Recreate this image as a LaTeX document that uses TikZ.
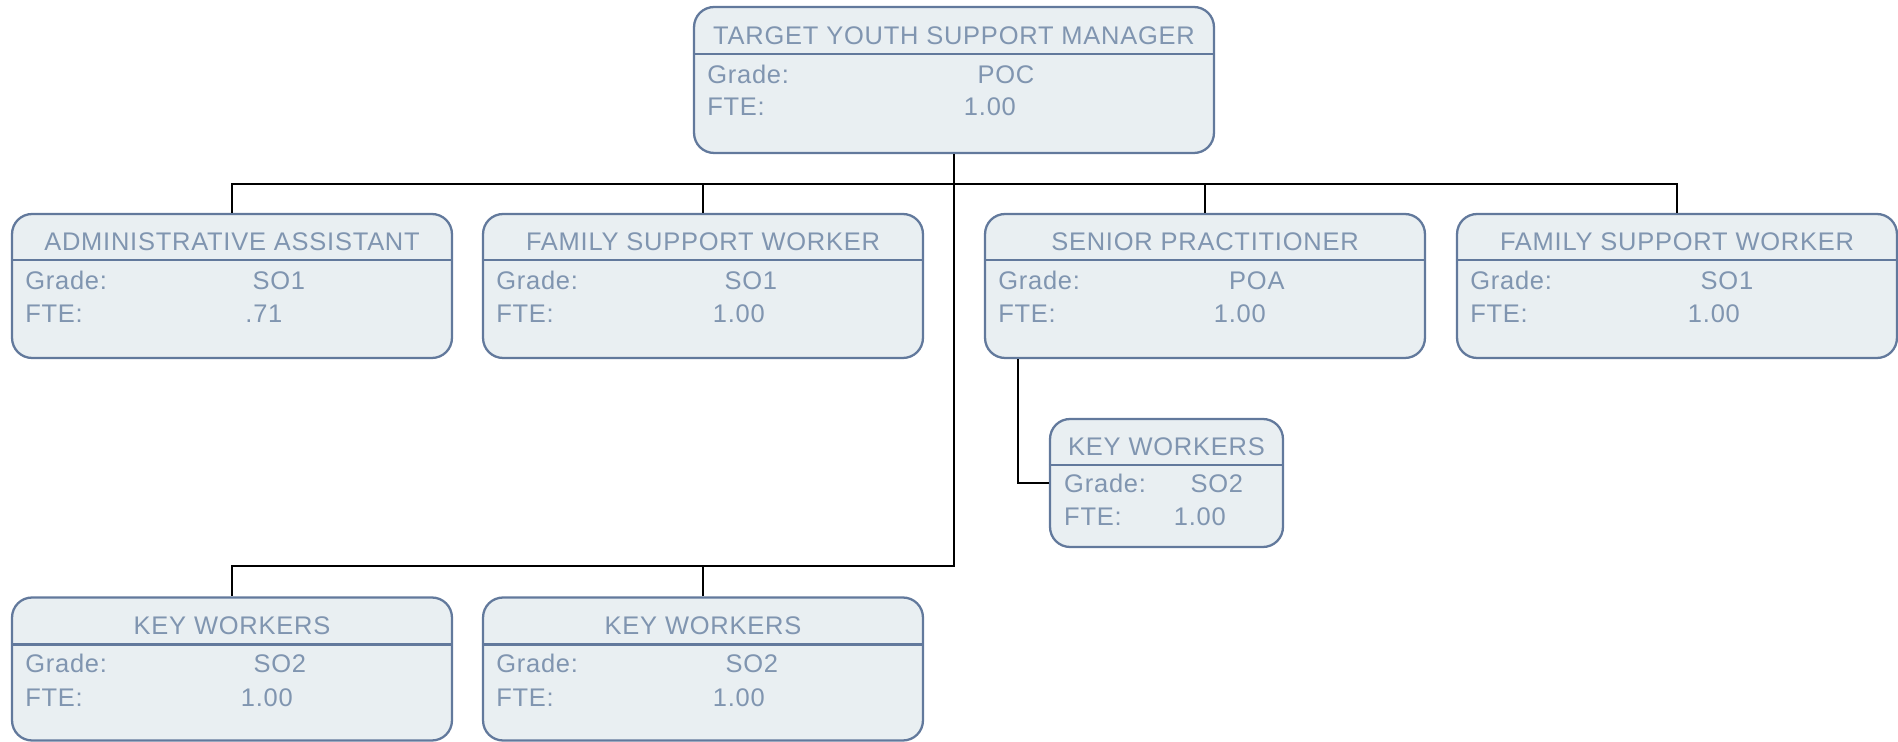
\documentclass[tikz,border=0pt]{standalone}
\usepackage{fontspec}
\newfontfamily\chartfont[LetterSpace=3]{Liberation Sans}
\usetikzlibrary{calc}
\definecolor{boxline}{RGB}{98,121,156}
\definecolor{boxfill}{RGB}{233,239,242}
\definecolor{boxtext}{RGB}{128,149,176}

\begin{document}
\begin{tikzpicture}[x=0.02cm,y=-0.02cm,
  orgbox/.style={draw=boxline,fill=boxfill,line width=1.3pt,rounded corners=0.4cm,
    minimum width=8.8cm,minimum height=2.88cm,inner sep=0pt},
  boxtitle/.style={text=boxtext,font=\chartfont\fontsize{14.5}{17}\selectfont,inner sep=0pt},
  rowlabel/.style={boxtitle,anchor=west},
  rowvalue/.style={boxtitle},
  divider/.style={draw=boxline,line width=1.3pt},
  link/.style={draw=black,line width=1.4pt}]
  \useasboundingbox (0,0) rectangle (1898,742);

  % manager
  \node[orgbox,minimum width=10.4cm,minimum height=2.92cm] (tysm) at (954,80) {};
  \node[boxtitle] (tysm-t) at ($(tysm.north)+(0,30)$) {TARGET YOUTH SUPPORT MANAGER};
  \draw[divider] ($(tysm.north west)+(0,48)$) -- ($(tysm.north east)+(0,48)$);
  \node[rowlabel] (tysm-gl) at ($(tysm.north west)+(14,69)$) {Grade:};
  \node[rowvalue] (tysm-gv) at ($(tysm.north west)+(313,69)$) {POC};
  \node[rowlabel] (tysm-fl) at ($(tysm.north west)+(14,101)$) {FTE:};
  \node[rowvalue] (tysm-fv) at ($(tysm.north west)+(297,101)$) {1.00};

  % second row
  \node[orgbox] (admin) at (232,286) {};
  \node[boxtitle] (admin-t) at ($(admin.north)+(0,29)$) {ADMINISTRATIVE ASSISTANT};
  \draw[divider] ($(admin.north west)+(0,47)$) -- ($(admin.north east)+(0,47)$);
  \node[rowlabel] (admin-gl) at ($(admin.north west)+(14,68)$) {Grade:};
  \node[rowvalue] (admin-gv) at ($(admin.north west)+(268,68)$) {SO1};
  \node[rowlabel] (admin-fl) at ($(admin.north west)+(14,101)$) {FTE:};
  \node[rowvalue] (admin-fv) at ($(admin.north west)+(253,101)$) {.71};

  \node[orgbox] (fswA) at (703,286) {};
  \node[boxtitle] (fswA-t) at ($(fswA.north)+(0,29)$) {FAMILY SUPPORT WORKER};
  \draw[divider] ($(fswA.north west)+(0,47)$) -- ($(fswA.north east)+(0,47)$);
  \node[rowlabel] (fswA-gl) at ($(fswA.north west)+(14,68)$) {Grade:};
  \node[rowvalue] (fswA-gv) at ($(fswA.north west)+(269,68)$) {SO1};
  \node[rowlabel] (fswA-fl) at ($(fswA.north west)+(14,101)$) {FTE:};
  \node[rowvalue] (fswA-fv) at ($(fswA.north west)+(257,101)$) {1.00};

  \node[orgbox] (sp) at (1205,286) {};
  \node[boxtitle] (sp-t) at ($(sp.north)+(0,29)$) {SENIOR PRACTITIONER};
  \draw[divider] ($(sp.north west)+(0,47)$) -- ($(sp.north east)+(0,47)$);
  \node[rowlabel] (sp-gl) at ($(sp.north west)+(14,68)$) {Grade:};
  \node[rowvalue] (sp-gv) at ($(sp.north west)+(273,68)$) {POA};
  \node[rowlabel] (sp-fl) at ($(sp.north west)+(14,101)$) {FTE:};
  \node[rowvalue] (sp-fv) at ($(sp.north west)+(256,101)$) {1.00};

  \node[orgbox] (fswB) at (1677,286) {};
  \node[boxtitle] (fswB-t) at ($(fswB.north)+(0,29)$) {FAMILY SUPPORT WORKER};
  \draw[divider] ($(fswB.north west)+(0,47)$) -- ($(fswB.north east)+(0,47)$);
  \node[rowlabel] (fswB-gl) at ($(fswB.north west)+(14,68)$) {Grade:};
  \node[rowvalue] (fswB-gv) at ($(fswB.north west)+(271,68)$) {SO1};
  \node[rowlabel] (fswB-fl) at ($(fswB.north west)+(14,101)$) {FTE:};
  \node[rowvalue] (fswB-fv) at ($(fswB.north west)+(258,101)$) {1.00};

  % key workers under the senior practitioner
  \node[orgbox,minimum width=4.66cm,minimum height=2.56cm] (kwC) at (1166.5,483) {};
  \node[boxtitle] (kwC-t) at ($(kwC.north)+(0,29)$) {KEY WORKERS};
  \draw[divider] ($(kwC.north west)+(0,47)$) -- ($(kwC.north east)+(0,47)$);
  \node[rowlabel] (kwC-gl) at ($(kwC.north west)+(15,66)$) {Grade:};
  \node[rowvalue] (kwC-gv) at ($(kwC.north west)+(168,66)$) {SO2};
  \node[rowlabel] (kwC-fl) at ($(kwC.north west)+(15,99)$) {FTE:};
  \node[rowvalue] (kwC-fv) at ($(kwC.north west)+(151,99)$) {1.00};

  % bottom row
  \node[orgbox,minimum height=2.86cm] (kwA) at (232,669) {};
  \node[boxtitle] (kwA-t) at ($(kwA.north)+(0,29)$) {KEY WORKERS};
  \draw[divider] ($(kwA.north west)+(0,48)$) -- ($(kwA.north east)+(0,48)$);
  \node[rowlabel] (kwA-gl) at ($(kwA.north west)+(14,67)$) {Grade:};
  \node[rowvalue] (kwA-gv) at ($(kwA.north west)+(269,67)$) {SO2};
  \node[rowlabel] (kwA-fl) at ($(kwA.north west)+(14,101)$) {FTE:};
  \node[rowvalue] (kwA-fv) at ($(kwA.north west)+(256,101)$) {1.00};

  \node[orgbox,minimum height=2.86cm] (kwB) at (703,669) {};
  \node[boxtitle] (kwB-t) at ($(kwB.north)+(0,29)$) {KEY WORKERS};
  \draw[divider] ($(kwB.north west)+(0,48)$) -- ($(kwB.north east)+(0,48)$);
  \node[rowlabel] (kwB-gl) at ($(kwB.north west)+(14,67)$) {Grade:};
  \node[rowvalue] (kwB-gv) at ($(kwB.north west)+(270,67)$) {SO2};
  \node[rowlabel] (kwB-fl) at ($(kwB.north west)+(14,101)$) {FTE:};
  \node[rowvalue] (kwB-fv) at ($(kwB.north west)+(257,101)$) {1.00};

  % connectors
  \draw[link] (tysm.south) -- ++(0,30) coordinate (bus);
  \draw[link] (admin.north) |- (bus) -| (fswB.north);
  \draw[link] (fswA.north) -- (fswA.north |- bus);
  \draw[link] (sp.north) -- (sp.north |- bus);
  \coordinate (lowbus) at (954,566);
  \draw[link] (bus) -- (lowbus) -| (kwA.north);
  \draw[link] (kwB.north) -- (kwB.north |- lowbus);
  \draw[link] ($(sp.south west)+(34,0)$) |- (kwC.west);
\end{tikzpicture}
\end{document}
